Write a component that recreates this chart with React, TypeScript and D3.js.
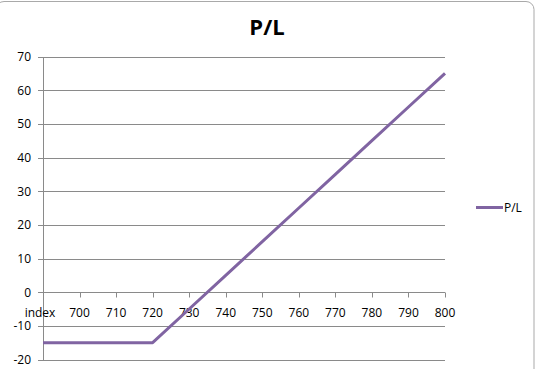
import React from "react";
import * as d3 from "d3";

const categories: string[] = ["index", "700", "710", "720", "730", "740", "750", "760", "770", "780", "790", "800"];
const plValues: number[] = [-15, -15, -15, -15, -5, 5, 15, 25, 35, 45, 55, 65];
const yTicks: number[] = [-20, -10, 0, 10, 20, 30, 40, 50, 60, 70];
const seriesName = "P/L";
const chartTitle = "P/L";

const W = 537;
const H = 369;
const LINE_COLOR = "#8064A2";
const GRID = "#8a8a8a";
const FONT = "'Open Sans', 'DejaVu Sans', sans-serif";

export default function App() {
  const x = d3.scalePoint<string>().domain(categories).range([43, 445]);
  const y = d3.scaleLinear().domain([-20, 70]).range([359.5, 56.5]);
  const line = d3
    .line<number>()
    .x((_, i) => x(categories[i]) as number)
    .y((d) => y(d));
  const y0 = Math.round(y(0)) + 0.5;
  const xl = x.range()[0];
  const xr = x.range()[1];

  return (
    <svg
      width={W}
      height={H}
      style={{ position: "absolute", left: 0, top: 0, background: "#fff" }}
      fontFamily={FONT}
    >
      <rect x={-4} y={1.5} width={538} height={400} rx={8} ry={8} fill="#fff" stroke="#a9a9a9" strokeWidth={1} />
      <text x={267} y={35} textAnchor="middle" fontSize={22} fontWeight="bold" fill="#000">
        {chartTitle}
      </text>
      {yTicks.map((t) => (
        <line key={"g" + t} x1={xl - 5} x2={xr} y1={Math.round(y(t)) + 0.5} y2={Math.round(y(t)) + 0.5} stroke={GRID} strokeWidth={1} />
      ))}
      <line x1={xl + 0.5} x2={xl + 0.5} y1={Math.round(y(70))} y2={Math.round(y(-20)) + 1} stroke={GRID} strokeWidth={1} />
      {yTicks.map((t) => (
        <text key={"yl" + t} x={31} y={y(t) + 4.5} textAnchor="end" fontSize={12} fill="#000">
          {t}
        </text>
      ))}
      {categories.slice(1).map((c) => (
        <line key={"xt" + c} x1={Math.round(x(c) as number) + 0.5} x2={Math.round(x(c) as number) + 0.5} y1={y0} y2={y0 + 5} stroke={GRID} strokeWidth={1} />
      ))}
      {categories.map((c, i) => (
        <text key={"xl" + c} x={(x(c) as number) - (i === 0 ? 3 : 0)} y={316.5} textAnchor="middle" fontSize={12} fill="#000">
          {c}
        </text>
      ))}
      <path d={line(plValues) || ""} fill="none" stroke={LINE_COLOR} strokeWidth={3} strokeLinejoin="round" />
      <line x1={476} x2={503} y1={207.5} y2={207.5} stroke={LINE_COLOR} strokeWidth={3} />
      <text x={504} y={212} fontSize={12} fill="#000">
        {seriesName}
      </text>
    </svg>
  );
}
